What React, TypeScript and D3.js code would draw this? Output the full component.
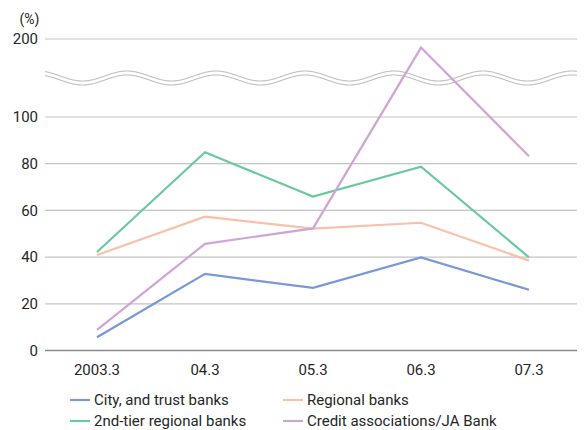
import React from "react";
import * as d3 from "d3";

const categories = ["2003.3", "04.3", "05.3", "06.3", "07.3"];
const cityTrust = [5.7, 32.8, 26.8, 39.9, 26.0];
const regional = [40.9, 57.3, 52.2, 54.7, 38.5];
const secondTier = [42.2, 84.9, 65.9, 78.7, 39.9];
const creditJA = [8.8, 45.7, 52.3, 189, 83.2];
const yTicks = [0, 20, 40, 60, 80, 100, 200];

const series = [
  { name: "City, and trust banks", values: cityTrust, color: "#7899d6" },
  { name: "Regional banks", values: regional, color: "#f8c1aa" },
  { name: "2nd-tier regional banks", values: secondTier, color: "#6cc8a0" },
  { name: "Credit associations/JA Bank", values: creditJA, color: "#d0a4d6" },
];

const W = 588;
const H = 430;
const plotLeft = 45;
const plotRight = 577;
const FONT = "Roboto, 'Liberation Sans', Arial, sans-serif";
const TEXT = "#262626";

export default function App() {
  const x = d3.scalePoint<string>().domain(categories).range([97, 529]);
  // broken axis: 0–100 in the lower panel, 100–200 compressed above the break
  const y = d3.scaleLinear().domain([0, 100, 200]).range([350.5, 117, 39]);

  const line = d3
    .line<number>()
    .x((_, i) => x(categories[i]) as number)
    .y((v) => y(v));

  // wavy break marker
  const waveXs = d3.range(plotLeft, plotRight + 0.5, 1);
  const wave = (offset: number) =>
    d3
      .line<number>()
      .x((d) => d)
      .y((d) => 76 + offset - 5 * Math.cos((2 * Math.PI * (d - 38)) / 89))
      .curve(d3.curveBasis)(waveXs) as string;

  const legendItems = [
    { s: series[0], lx: 70, ly: 400 },
    { s: series[1], lx: 283, ly: 400 },
    { s: series[2], lx: 70, ly: 421 },
    { s: series[3], lx: 283, ly: 421 },
  ];

  return (
    <svg
      width={W}
      height={H}
      style={{ position: "absolute", left: 0, top: 0, background: "#fff" }}
      fontFamily={FONT}
    >
      <text x={29.5} y={23.5} fontSize={14} fill={TEXT} textAnchor="middle">
        (%)
      </text>

      {yTicks.map((t) => (
        <g key={t}>
          <line
            x1={plotLeft}
            x2={plotRight}
            y1={y(t)}
            y2={y(t)}
            stroke={t === 0 ? "#8a8a8a" : "#c4c4c4"}
            strokeWidth={t === 0 ? 1.6 : 1.2}
          />
          <text
            x={38}
            y={y(t)}
            dy="0.35em"
            fontSize={15}
            fill={TEXT}
            textAnchor="end"
          >
            {t}
          </text>
        </g>
      ))}

      <path d={wave(2)} fill="none" stroke="#fff" strokeWidth={4} />
      <path d={wave(0)} fill="none" stroke="#c0c0c0" strokeWidth={1.1} />
      <path d={wave(4)} fill="none" stroke="#c0c0c0" strokeWidth={1.1} />

      {series.map((s) => (
        <path
          key={s.name}
          d={line(s.values) as string}
          fill="none"
          stroke={s.color}
          strokeWidth={2.2}
          strokeLinejoin="miter"
        />
      ))}

      {categories.map((c) => (
        <text
          key={c}
          x={x(c) as number}
          y={375}
          fontSize={15}
          fill={TEXT}
          textAnchor="middle"
        >
          {c}
        </text>
      ))}

      {legendItems.map(({ s, lx, ly }) => (
        <g key={s.name}>
          <line
            x1={lx}
            x2={lx + 20}
            y1={ly}
            y2={ly}
            stroke={s.color}
            strokeWidth={2.2}
          />
          <text x={lx + 24} y={ly} dy="0.35em" fontSize={15} fill={TEXT}>
            {s.name}
          </text>
        </g>
      ))}
    </svg>
  );
}
